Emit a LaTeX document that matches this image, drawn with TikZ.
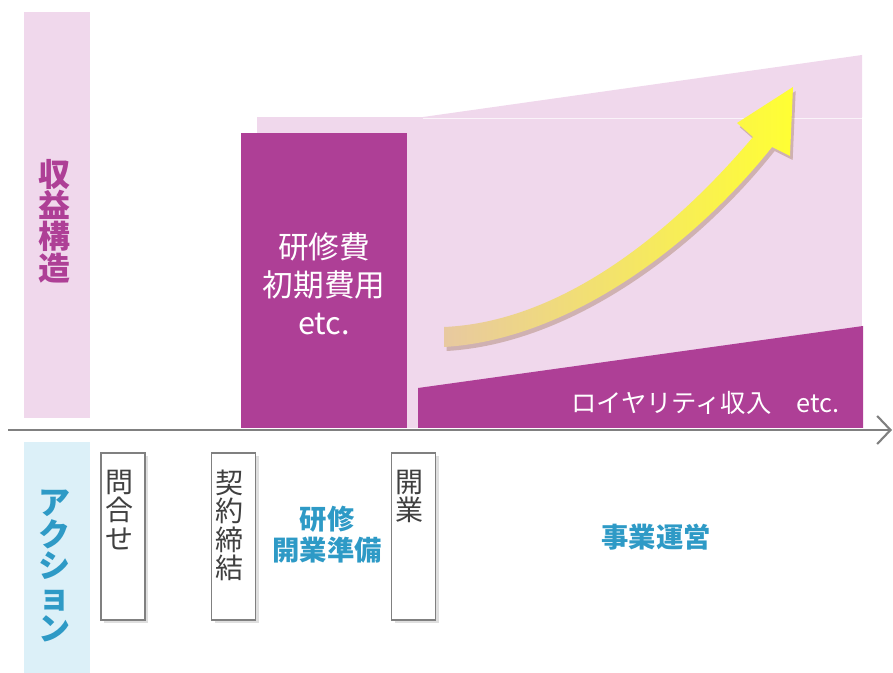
\documentclass[tikz,border=0pt]{standalone}
\usepackage{fontspec}
\setmainfont{Noto Sans CJK JP}
\usetikzlibrary{positioning,arrows.meta,shadows}
\setlength{\lineskiplimit}{-20pt}
\definecolor{kpurple}{RGB}{174,63,150}
\definecolor{kpink}{RGB}{240,216,236}
\definecolor{kblue}{RGB}{46,154,198}
\definecolor{kskyblue}{RGB}{220,240,248}
\definecolor{kgray}{RGB}{128,128,128}
\definecolor{ktext}{RGB}{64,64,64}
\definecolor{ktan}{RGB}{232,201,160}
\definecolor{kyellow}{RGB}{255,255,51}
\tikzset{band label/.style={inner sep=0pt,align=center,font=\bfseries\fontsize{24}{23.5}\selectfont},
	action box/.style={draw=kgray,line width=1.1pt,fill=white,minimum width=33pt,minimum height=125pt,inner sep=0pt,
		drop shadow={shadow xshift=2.5pt,shadow yshift=-2.5pt,opacity=0.25}},
	box text/.style={inner sep=0pt,align=center,text=ktext,xshift=-3pt,font=\fontsize{21}{21.25}\selectfont},
	phase/.style={inner sep=0pt,align=center,text=kblue,font=\bfseries\fontsize{20.5}{23.5}\selectfont},
}

\begin{document}
\begin{tikzpicture}[x=0.75pt,y=-0.75pt]
		\useasboundingbox (0,0) rectangle (893,673);
		\fill[kpink] (24,12) rectangle (90,418);
		\fill[kskyblue] (24,442) rectangle (90,673);
		\fill[kpink] (257,117) rectangle (862,428);
		\fill[kpink] (423,117) -- (862,55) -- (862,117) -- cycle;
		\draw[white,line width=0.6pt,opacity=0.7] (423,118) -- (862,118);
		\fill[kpurple] (241,133) rectangle (407,428);
		\fill[kpurple] (418,428) -- (418,388) -- (863,326) -- (863,428) -- cycle;
		\shade[left color=ktan,right color=kyellow,
			drop shadow={shadow xshift=2pt,shadow yshift=-3pt,fill=brown!70!black,opacity=0.3}]
			(444,347) .. controls (565,340) and (690,250) .. (772,147) -- (790,156) -- (793,87)
			-- (737,123) -- (753,137) .. controls (670,235) and (560,322) .. (444,327) -- cycle;
		
		\node[band label,text=kpurple] (shueki) at (54,221) {収\\益\\構\\造};
		\node[band label,text=kblue] (action) at (54,566) {ア\\ク\\シ\\ョ\\ン};
		\node[inner sep=0pt,align=center,text=white,font=\fontsize{23}{28.5}\selectfont] (kenshuhi) at (324,284) {研修費\\初期費用\\etc.};
		\node[inner sep=0pt,text=white,font=\fontsize{19}{21}\selectfont,anchor=east] (royalty) at (840,403) {ロイヤリティ収入\quad etc.};
		
		\node[action box] (toiawase) at (123,536.5) {};
		\node[action box] (keiyaku) at (233.5,536.5) {};
		\node[action box] (kaigyo) at (413.5,536.5) {};
		\node[box text] (toiawasetext) [below=13pt of toiawase.north] {問\\合\\せ};
		\node[box text] (keiyakutext) [below=13pt of keiyaku.north] {契\\約\\締\\結};
		\node[box text] (kaigyotext) [below=13pt of kaigyo.north] {開\\業};
		\node[phase] (junbi) at (327,535) {研修\\開業準備};
		\node[phase] (unei) at (656,537) {事業運営};
		
		\coordinate (axisstart) at (8,430);
		\coordinate (axisend) at (892,430);
		\draw[kgray,line width=2.2pt,-{Straight Barb[length=10pt,width=21pt,line width=1.6pt]}] (axisstart) -- (axisend);
	\end{tikzpicture}
\end{document}
